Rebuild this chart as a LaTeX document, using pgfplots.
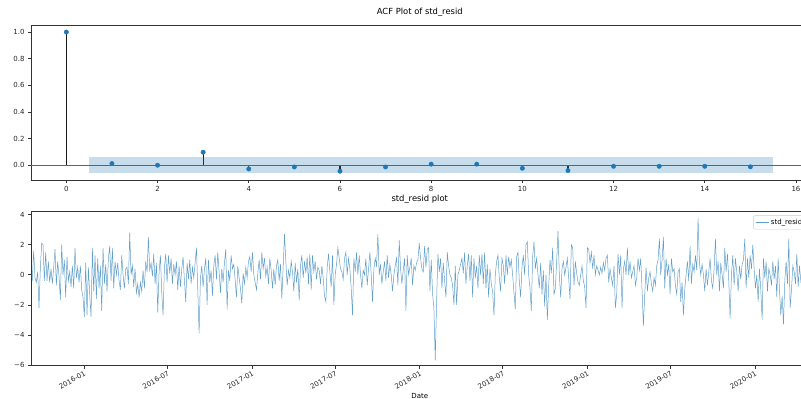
\documentclass[border=0pt]{standalone}
\usepackage{fontspec}
\setmainfont{DejaVu Sans}
\usepackage{pgfplots}
\usepackage{pgfplotstable}
\pgfplotsset{compat=1.18}
\definecolor{C0}{HTML}{1F77B4}
\definecolor{spine}{gray}{0.2}

\pgfplotstableread[row sep=\\]{
v\\
0.1\\ -0.3\\ 1.6\\ -0.2\\ -0.5\\ 0.2\\ -2.2\\ 0.4\\ 2.1\\ 2.0\\ -0.4\\ 1.5\\ -0.4\\ 0.9\\ -0.5\\ 0.4\\ -0.6\\ 0.5\\ 1.7\\ -0.7\\ 0.9\\ -0.1\\ -1.7\\ 2.0\\ 0.0\\ 1.0\\ -1.5\\ 1.2\\ -0.4\\ 0.2\\ -0.8\\ 0.6\\ -0.9\\ 1.8\\ -0.2\\ 0.5\\ -0.5\\ 0.6\\ -1.0\\ -1.5\\ -2.8\\ 0.8\\ -2.7\\ 0.5\\ -1.3\\ -2.8\\ 1.8\\ -1.1\\ 1.3\\ -1.6\\ 1.1\\ -0.9\\ 0.6\\ -2.4\\ 1.8\\ -0.6\\ 0.7\\ -1.1\\ 1.1\\ 1.9\\ -0.4\\ 1.8\\ -0.9\\ 0.9\\ 0.0\\ 0.8\\ -0.4\\ -1.0\\ 1.3\\ 0.0\\ -0.9\\ 0.4\\
0.5\\ -0.6\\ 2.8\\ 0.0\\ 0.6\\ -0.8\\ 0.4\\ -1.2\\ -0.6\\ -1.5\\ -0.5\\ -1.1\\ 0.3\\ -0.9\\ 0.9\\ 0.2\\ 2.5\\ 0.3\\ 0.8\\ -0.1\\ 1.4\\ -0.6\\ 0.8\\ -2.5\\ 0.2\\ 1.3\\ -1.2\\ -2.7\\ 0.5\\ 1.4\\ -0.5\\ 1.3\\ 0.1\\ 1.1\\ -0.6\\ 0.7\\ 0.0\\ 0.9\\ -1.0\\ 0.6\\ -0.8\\ 0.4\\ 1.2\\ -0.4\\ -1.8\\ 0.8\\ -0.3\\ 1.0\\ -0.6\\ 0.5\\ -0.2\\ 0.8\\ 1.8\\ -1.0\\ -3.9\\ -0.2\\ 0.6\\ -0.8\\ 0.4\\ 1.1\\ -2.0\\ 1.0\\ -0.5\\ 0.3\\ -1.4\\ 0.6\\ 1.3\\ -0.3\\ 1.5\\ 0.2\\ -1.2\\ 0.4\\
-0.5\\ 0.8\\ 1.7\\ -2.3\\ 0.3\\ -0.4\\ 1.3\\ 0.4\\ 0.7\\ -0.3\\ -1.5\\ 0.6\\ -0.2\\ -0.9\\ -1.9\\ 0.1\\ -0.6\\ 0.5\\ -0.2\\ 0.9\\ 1.2\\ 0.2\\ 1.5\\ 0.0\\ -0.5\\ -1.0\\ 0.1\\ 1.0\\ -0.3\\ 1.5\\ 0.4\\ 1.1\\ -0.1\\ 0.5\\ -0.6\\ 1.1\\ 0.3\\ -0.9\\ 0.4\\ -0.7\\ 0.6\\ 1.0\\ -0.4\\ 0.7\\ -1.6\\ 0.5\\ 2.7\\ 0.9\\ -0.7\\ 0.3\\ -0.2\\ 0.9\\ 0.2\\ -1.1\\ 0.8\\ -0.5\\ 0.4\\ -1.7\\ 0.6\\ 1.3\\ -0.2\\ 0.9\\ 0.1\\ 1.2\\ -0.6\\ 1.4\\ -1.0\\ 1.3\\ 0.2\\ 0.9\\ -0.3\\ 0.5\\
0.3\\ -0.6\\ 0.6\\ -0.2\\ -1.4\\ -1.8\\ 0.5\\ 1.4\\ 0.2\\ -0.8\\ 1.3\\ -2.0\\ 0.0\\ 0.7\\ 1.8\\ 1.1\\ 0.4\\ 0.2\\ -0.3\\ 1.1\\ 1.5\\ 0.0\\ 1.1\\ 0.4\\ -0.9\\ -2.7\\ 1.1\\ 0.2\\ 1.5\\ 0.0\\ 1.3\\ 0.0\\ -0.9\\ 0.3\\ 0.0\\ 1.1\\ -0.7\\ 0.4\\ 1.5\\ 0.0\\ -1.8\\ 0.4\\ 1.1\\ 0.6\\ 2.7\\ 0.0\\ 0.7\\ -0.6\\ 0.2\\ 0.9\\ -0.4\\ 1.3\\ -0.2\\ 0.7\\ 0.0\\ -1.1\\ 0.0\\ 0.6\\ 1.1\\ -0.7\\ 2.3\\ 0.4\\ -0.6\\ 0.3\\ 1.1\\ -2.4\\ 1.3\\ 0.0\\ 0.5\\ 1.1\\ -0.7\\ 0.6\\
0.3\\ 0.8\\ 1.0\\ 2.1\\ 1.1\\ 0.4\\ 0.2\\ 1.9\\ 0.5\\ 1.7\\ 1.8\\ -1.1\\ 1.0\\ -1.3\\ -2.2\\ -5.7\\ -1.8\\ 1.4\\ 0.2\\ 1.1\\ -0.9\\ 0.8\\ -0.4\\ -1.5\\ 1.5\\ 0.6\\ 0.0\\ -0.2\\ -0.7\\ -2.0\\ 0.6\\ -2.0\\ 0.0\\ 0.3\\ 0.7\\ 1.1\\ 0.1\\ 1.5\\ -0.6\\ 0.6\\ 1.4\\ -0.4\\ 1.3\\ -1.5\\ 1.1\\ -0.2\\ 0.6\\ -0.9\\ 1.3\\ 0.0\\ 1.4\\ -0.6\\ 1.5\\ -0.9\\ 0.7\\ -1.5\\ 0.4\\ -0.6\\ -1.1\\ -2.7\\ 0.0\\ 0.9\\ 1.3\\ -0.2\\ -1.1\\ 1.1\\ 0.6\\ -0.6\\ 1.3\\ 0.0\\ 1.2\\ 0.5\\
1.0\\ 0.0\\ -1.2\\ -2.3\\ 1.2\\ 1.5\\ -0.4\\ -1.5\\ 0.5\\ 1.3\\ 0.0\\ 2.0\\ 2.2\\ 0.0\\ -0.9\\ -2.4\\ 1.2\\ 2.2\\ 0.4\\ 1.1\\ 0.0\\ -0.9\\ 0.8\\ -1.3\\ 0.3\\ -2.1\\ 0.0\\ -3.0\\ -0.8\\ 1.0\\ 0.1\\ 1.8\\ -1.3\\ -0.9\\ 0.9\\ 2.9\\ 0.0\\ -1.5\\ 0.4\\ 0.9\\ 0.0\\ 0.5\\ 1.1\\ -0.2\\ -1.6\\ 2.0\\ 1.8\\ -0.7\\ 0.9\\ 0.1\\ -0.5\\ -0.7\\ 0.0\\ 0.6\\ -0.4\\ -0.8\\ -2.2\\ 1.8\\ 1.7\\ 0.8\\ 1.5\\ 0.4\\ 1.3\\ 0.0\\ 0.6\\ 0.3\\ 0.0\\ 0.5\\ 0.1\\ 0.8\\ 0.3\\ 1.1\\
1.3\\ -0.5\\ 0.4\\ -0.2\\ -0.7\\ 0.6\\ -2.2\\ -1.3\\ 1.4\\ 0.0\\ 1.3\\ -2.2\\ 0.4\\ 0.9\\ 0.0\\ 1.8\\ 0.0\\ 0.9\\ -0.2\\ 0.2\\ 0.6\\ -0.7\\ -0.2\\ 1.1\\ 0.3\\ 1.1\\ -1.0\\ -3.4\\ -1.3\\ 0.5\\ -1.1\\ -0.2\\ 0.2\\ -0.6\\ -1.1\\ -0.2\\ -0.7\\ 0.6\\ 1.0\\ 2.4\\ 0.0\\ 1.0\\ 2.5\\ -0.9\\ 1.1\\ 0.0\\ 0.7\\ -1.3\\ 1.1\\ 0.2\\ 0.4\\ -0.7\\ -1.3\\ 0.2\\ 0.4\\ -1.8\\ -0.5\\ -2.7\\ -1.0\\ 0.0\\ 0.9\\ -0.4\\ 1.9\\ -0.6\\ 0.7\\ 0.2\\ 1.3\\ 0.3\\ 3.75\\ 0.8\\ 0.0\\ 0.7\\
0.0\\ -1.1\\ 0.4\\ -0.7\\ 0.2\\ 1.1\\ -0.4\\ -0.9\\ 0.4\\ 2.4\\ 0.0\\ 0.9\\ -1.1\\ 0.8\\ 0.0\\ -0.9\\ 1.8\\ 0.2\\ 1.4\\ -0.4\\ -2.9\\ 0.0\\ 1.3\\ -0.7\\ 1.1\\ 0.2\\ -1.1\\ 0.6\\ -0.3\\ 0.7\\ 1.0\\ 2.4\\ -0.9\\ 1.1\\ -0.2\\ 1.3\\ 0.4\\ 2.0\\ 0.4\\ -0.9\\ 0.0\\ -1.8\\ 0.4\\ -1.0\\ -3.0\\ 1.1\\ -0.2\\ 0.9\\ -1.1\\ 0.4\\ 0.0\\ -0.7\\ 0.9\\ -0.3\\ 0.6\\ -1.5\\ 1.1\\ -1.0\\ -2.7\\ -1.4\\ -3.3\\ -0.4\\ 0.9\\ -0.6\\ 2.4\\ -2.2\\ -1.0\\ 0.6\\ 0.2\\ -0.6\\ 1.4\\ -0.8\\ 0.6\\ -0.4\\ 0.2\\ 1.0\\ -0.3\\ 0.4\\ 0.0\\ 0.3\\
}\resid

\begin{document}
\begin{tikzpicture}
\pgfplotsset{
  mpl/.style={
    scale only axis, width=777.5pt,
    axis line style={spine, line width=0.7pt},
    tick align=outside, tick pos=left,
    major tick length=3pt,
    every tick/.style={spine, line width=0.7pt},
    tick label style={font=\fontsize{7}{8.4}\selectfont, text=black!85},
    title style={font=\fontsize{8.4}{10}\selectfont, anchor=base, at={(0.5,1)}, yshift=4pt, inner sep=0pt},
  }
}
\begin{axis}[mpl, at={(31pt,219pt)}, anchor=south west, height=155pt,
  xmin=-0.775, xmax=16.275, ymin=-0.111, ymax=1.053,
  xtick={0,2,4,6,8,10,12,14,16}, xticklabels={0,2,4,6,8,10,12,14,16},
  ytick={0,0.2,0.4,0.6,0.8,1.0}, yticklabels={0.0,0.2,0.4,0.6,0.8,1.0},
  title={ACF Plot of std\_resid}]
\addplot[ycomb, black!90, line width=1.2pt] coordinates {
(0,1.0)(1,0.013)(2,0.0)(3,0.098)(4,-0.028)(5,-0.013)(6,-0.045)(7,-0.013)
(8,0.008)(9,0.008)(10,-0.023)(11,-0.04)(12,-0.008)(13,-0.008)(14,-0.008)(15,-0.012)};
\addplot[draw=none, fill=C0, fill opacity=0.25] coordinates {
(0.5,-0.058)(15.5,-0.058)(15.5,0.058)(0.5,0.058)} -- cycle;
\addplot[only marks, mark=*, mark size=2.2pt, C0] coordinates {
(0,1.0)(1,0.013)(2,0.0)(3,0.098)(4,-0.028)(5,-0.013)(6,-0.045)(7,-0.013)
(8,0.008)(9,0.008)(10,-0.023)(11,-0.04)(12,-0.008)(13,-0.008)(14,-0.008)(15,-0.012)};
\addplot[C0, line width=1.1pt] coordinates {(-0.775,0)(16.275,0)};
\end{axis}

\begin{axis}[mpl, at={(31pt,33.3pt)}, anchor=south west, height=154pt,
  xmin=-115.49, xmax=1577.6, ymin=-6.05, ymax=4.2,
  xtick={0,182,366,547,731,912,1096,1277,1461},
  xticklabels={2016-01,2016-07,2017-01,2017-07,2018-01,2018-07,2019-01,2019-07,2020-01},
  xticklabel style={rotate=30, anchor=north east, inner sep=1pt},
  ytick={-6,-4,-2,0,2,4}, yticklabels={−6,−4,−2,0,2,4},
  title={std\_resid plot},
  xlabel={Date},
  xlabel style={at={(axis description cs:0.5,0)}, anchor=north, yshift=-27pt, inner sep=0pt, font=\fontsize{7}{8.4}\selectfont},
  legend style={at={(1,1)}, anchor=north east, xshift=-2pt, yshift=-3.5pt,
    draw=black!20, rounded corners=1.5pt, fill=white, fill opacity=0.8, text opacity=1,
    font=\fontsize{7}{8.4}\selectfont, inner xsep=2pt, inner ysep=1.5pt},
  legend image code/.code={\draw[#1] (0pt,0pt) -- (13pt,0pt);}]
\addplot[C0, line width=0.5pt, opacity=0.7] table[x expr={-115.49+\coordindex*2.9053}, y=v] {\resid};
\addlegendentry{std\_resid}
\end{axis}
\pgfresetboundingbox
\useasboundingbox (0,0) rectangle (801pt,399pt);
\end{tikzpicture}
\end{document}
